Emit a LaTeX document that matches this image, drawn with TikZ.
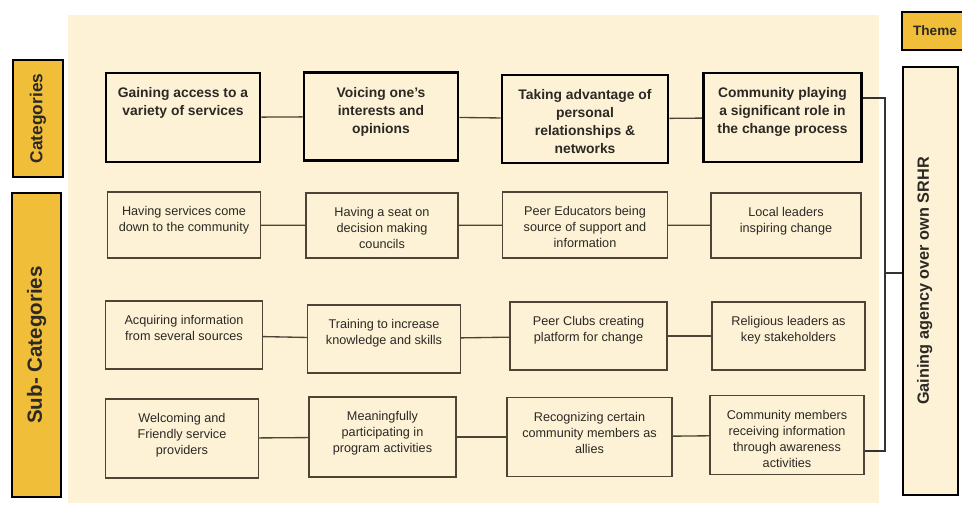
\documentclass[tikz,border=0pt]{standalone}
\usepackage{fontspec}
\setmainfont{Liberation Sans}
\usepackage{tikz}

\definecolor{cream}{HTML}{FDF2D6}
\definecolor{gold}{HTML}{F1BE3A}
\definecolor{ink}{HTML}{2C2924}
\definecolor{edge}{HTML}{4C4434}

% text hung from the top of a box, width and height given in px
\newcommand{\boxtext}[3]{\parbox[c][\dimexpr #2pt*3/4-22pt\relax][t]{\dimexpr #1pt*3/4\relax}{\centering #3}}

\begin{document}
\begin{tikzpicture}[x=0.75pt, y=-0.75pt,
		catbox/.style={draw=black, line width=2.2pt, fill=cream, inner xsep=0pt, inner ysep=11pt, text=ink, font=\fontsize{10.4}{13.5}\selectfont\bfseries},
		subbox/.style={draw=edge, line width=1pt, fill=cream, inner xsep=0pt, inner ysep=11pt, text=ink, font=\fontsize{9.5}{12}\selectfont},
		tag/.style={draw=black, line width=2.2pt, fill=gold, text=ink},
		link/.style={draw=edge, line width=1pt}]
	\useasboundingbox (0,0) rectangle (962,507);
	\fill[cream] (68,15) rectangle (879,503);

	% side tags
	\node[tag, rotate=90, minimum width=87.75pt, minimum height=37.5pt, font=\fontsize{13}{15}\selectfont\bfseries] (cattag) at (38,118.5) {Categories};
	\node[tag, rotate=90, minimum width=228pt, minimum height=36.75pt, font=\fontsize{15.4}{18}\selectfont\bfseries] (subtag) at (36.5,345) {Sub- Categories};
	\node[tag, minimum width=49.5pt, minimum height=28.5pt, font=\fontsize{10.2}{12}\selectfont\bfseries] (themetag) at (935,31) {Theme};
	\node[draw=black, line width=2.2pt, fill=cream, text=ink, rotate=90, minimum width=321pt, minimum height=41.25pt, text height=8.8pt, text depth=11.2pt, font=\fontsize{12.2}{14}\selectfont\bfseries] (theme) at (930.5,281) {Gaining agency over own SRHR};

	% categories
	\node[catbox] (c1) at (183,117.5) {\boxtext{154}{89}{Gaining access to a\\variety of services}};
	\node[catbox] (c2) at (381,116.5) {\boxtext{154}{88}{Voicing one’s\\interests and\\opinions}};
	\node[catbox] (c3) at (585,119) {\boxtext{166}{88}{Taking advantage of\\personal\\relationships \&\\networks}};
	\node[catbox] (c4) at (782.5,117.5) {\boxtext{158}{89}{Community playing\\a significant role in\\the change process}};

	% sub-categories
	\node[subbox] (s11) at (184,225) {\boxtext{153}{66}{Having services come\\down to the community}};
	\node[subbox] (s12) at (382,225.5) {\boxtext{152}{65}{Having a seat on\\decision making\\councils}};
	\node[subbox] (s13) at (585,225) {\boxtext{165}{66}{Peer Educators being\\source of support and\\information}};
	\node[subbox] (s14) at (786,225.5) {\boxtext{150}{65}{Local leaders\\inspiring change}};

	\node[subbox] (s21) at (184,335) {\boxtext{157}{68}{Acquiring information\\from several sources}};
	\node[subbox] (s22) at (384,339) {\boxtext{153}{68}{Training to increase\\knowledge and skills}};
	\node[subbox] (s23) at (588.5,336) {\boxtext{157}{68}{Peer Clubs creating\\platform for change}};
	\node[subbox] (s24) at (788.5,336) {\boxtext{153}{68}{Religious leaders as\\key stakeholders}};

	\node[subbox] (s31) at (182,438.5) {\boxtext{153}{79}{Welcoming and\\Friendly service\\providers}};
	\node[subbox] (s32) at (382.5,437) {\boxtext{147}{80}{Meaningfully\\participating in\\program activities}};
	\node[subbox] (s33) at (589.5,437) {\boxtext{165}{79}{Recognizing certain\\community members as\\allies}};
	\node[subbox] (s34) at (787,435) {\boxtext{154}{79}{Community members\\receiving information\\through awareness\\activities}};

	% links along each row
	\draw[link] (c1) -- (c2);
	\draw[link] (c2) -- (c3);
	\draw[link] (c3) -- (c4);
	\draw[link] (s11) -- (s12);
	\draw[link] (s12) -- (s13);
	\draw[link] (s13) -- (s14);
	\draw[link] (s21) -- (s22);
	\draw[link] (s22) -- (s23);
	\draw[link] (s23) -- (s24);
	\draw[link] (s31) -- (s32);
	\draw[link] (s32) -- (s33);
	\draw[link] (s33) -- (s34);

	% bracket into the theme
	\coordinate (top) at ([yshift=15pt]c4.east);
	\coordinate (bot) at ([yshift=-12pt]s34.east);
	\coordinate (bar) at (885,273);
	\draw[link, draw=black!80, line width=1.5pt] (top) -- (top -| bar) -- (bot -| bar) -- (bot);
	\draw[link, draw=black!80, line width=1.5pt] (bar) -- (bar -| theme.north);
\end{tikzpicture}
\end{document}
